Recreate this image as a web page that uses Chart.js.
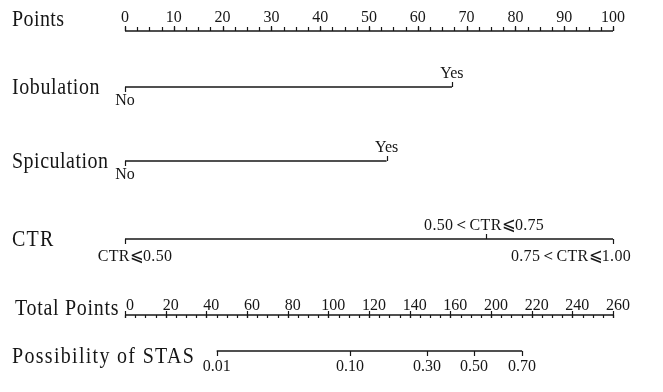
<!DOCTYPE html>
<html><head><meta charset="utf-8">
<script src="https://cdn.jsdelivr.net/npm/chart.js@4/dist/chart.umd.min.js"></script>
<style>html,body{margin:0;padding:0;background:#fff;}#wrap{width:663px;height:392px;}</style>
</head><body><div id="wrap"><canvas id="c" width="663" height="392"></canvas></div>
<script>
// ---------- data ----------
const rowNames = ["Points", "Iobulation", "Spiculation", "CTR", "Total Points", "Possibility of STAS"];
const pointsTickValues = [0, 10, 20, 30, 40, 50, 60, 70, 80, 90, 100];
const pointsMinorStep = 2.5;
const iobulationLevels = ["No", "Yes"];
const iobulationPoints = [0, 67];
const spiculationLevels = ["No", "Yes"];
const spiculationPoints = [0, 53.6];
const ctrLevels = ["CTR\u2A7D0.50", "0.50\uFF1CCTR\u2A7D0.75", "0.75\uFF1CCTR\u2A7D1.00"];
const ctrPoints = [0, 74, 100];
const totalTickValues = [0, 20, 40, 60, 80, 100, 120, 140, 160, 180, 200, 220, 240];
const totalTickLabels = ["0", "20", "40", "60", "80", "100", "120", "140", "160", "200", "220", "240", "260"];
const totalMinorStep = 5;
const stasLabels = ["0.01", "0.10", "0.30", "0.50", "0.70"];
const stasTotalPoints = [45.1, 110.7, 148.5, 171.7, 195.3];

// ---------- layout / style ----------
const rowY = { points: 31, iob: 87, spic: 161, ctr: 239, total: 315, stas: 351 };
const titleY = [20, 88, 162, 240, 309, 357];
const titleX = [12, 12, 12, 12, 15, 12];
const titleSpacing = [0.4, 0.6, 0.5, 1.2, 0.7, 1.3];
const INK = '#161616';
const FONT = '"Liberation Serif", "Times New Roman", "DejaVu Serif", serif';

function seg(xs, y) { return xs.map(v => ({ x: v, y: y })); }
const lineStyle = { type: 'line', borderColor: INK, borderWidth: 1.3, pointRadius: 0, fill: false, tension: 0 };

const datasets = [
  Object.assign({}, lineStyle, { data: seg([0, 100], rowY.points), xAxisID: 'x' }),
  Object.assign({}, lineStyle, { data: seg([iobulationPoints[0], iobulationPoints[iobulationPoints.length - 1]], rowY.iob), xAxisID: 'x' }),
  Object.assign({}, lineStyle, { data: seg([spiculationPoints[0], spiculationPoints[spiculationPoints.length - 1]], rowY.spic), xAxisID: 'x' }),
  Object.assign({}, lineStyle, { data: seg([ctrPoints[0], ctrPoints[ctrPoints.length - 1]], rowY.ctr), xAxisID: 'x' }),
  Object.assign({}, lineStyle, { data: seg([totalTickValues[0], totalTickValues[totalTickValues.length - 1]], rowY.total), xAxisID: 'xt' }),
  Object.assign({}, lineStyle, { data: seg([stasTotalPoints[0], stasTotalPoints[stasTotalPoints.length - 1]], rowY.stas), xAxisID: 'xt' })
];

const nomoPlugin = {
  id: 'nomo',
  afterDatasetsDraw(chart) {
    const ctx = chart.ctx;
    const xs = chart.scales.x, xt = chart.scales.xt, ys = chart.scales.y;
    const Y = v => ys.getPixelForValue(v);
    ctx.save();
    ctx.strokeStyle = INK; ctx.fillStyle = INK; ctx.lineWidth = 1.2;
    const tick = (px, y0, len) => { ctx.beginPath(); ctx.moveTo(Math.round(px) + 0.5, y0); ctx.lineTo(Math.round(px) + 0.5, y0 + len); ctx.stroke(); };
    const text = (s, px, py, size, align, ls, stretch) => {
      ctx.save();
      ctx.font = size + 'px ' + FONT; ctx.textAlign = align || 'center'; ctx.textBaseline = 'middle';
      ctx.letterSpacing = (ls || 0) + 'px';
      ctx.translate(px, py); ctx.scale(1, stretch || 1.1);
      ctx.fillText(s, 0, 0);
      ctx.restore();
    };
    // row titles
    rowNames.forEach((n, i) => text(n, titleX[i], titleY[i], 20, 'left', titleSpacing[i], 1.12));
    // Points axis
    const yp = Y(rowY.points);
    for (let v = 0; v <= 100 + 1e-9; v += pointsMinorStep) tick(xs.getPixelForValue(v), yp, -4);
    pointsTickValues.forEach(v => { tick(xs.getPixelForValue(v), yp, -5); text(String(v), xs.getPixelForValue(v), yp - 14, 16); });
    // binary rows
    const binRow = (levels, pts, y) => {
      const py = Y(y);
      levels.forEach((l, i) => {
        const px = xs.getPixelForValue(pts[i]);
        const up = i > 0;
        tick(px, py, up ? -5 : 5);
        text(l, px, up ? py - 14 : py + 13, 16);
      });
    };
    binRow(iobulationLevels, iobulationPoints, rowY.iob);
    binRow(spiculationLevels, spiculationPoints, rowY.spic);
    // CTR row
    const pc = Y(rowY.ctr);
    const ctrLabelShift = [10, -2, -42];
    ctrLevels.forEach((l, i) => {
      const px = xs.getPixelForValue(ctrPoints[i]);
      const up = i === 1;
      tick(px, pc, up ? -5 : 5);
      text(l, px + ctrLabelShift[i], up ? pc - 14 : pc + 17, 16, 'center', 0.3);
    });
    // Total points axis
    const pt = Y(rowY.total);
    for (let v = 0; v <= 240 + 1e-9; v += totalMinorStep) tick(xt.getPixelForValue(v), pt, 3);
    totalTickValues.forEach((v, i) => {
      const px = xt.getPixelForValue(v);
      tick(px, pt - 4, 7);
      text(totalTickLabels[i], px + 5, pt - 10, 16);
    });
    // Possibility axis
    const ps = Y(rowY.stas);
    stasTotalPoints.forEach((v, i) => {
      const px = xt.getPixelForValue(v);
      tick(px, ps, 5);
      text(stasLabels[i], px, ps + 15, 16);
    });
    ctx.restore();
  }
};

new Chart(document.getElementById('c'), {
  type: 'scatter',
  data: { datasets: datasets },
  options: {
    responsive: false, animation: false, devicePixelRatio: 1,
    layout: { padding: { left: 125, right: 50, top: 0, bottom: 0 } },
    plugins: { legend: { display: false }, tooltip: { enabled: false } },
    scales: {
      x: { type: 'linear', min: 0, max: 100, display: false },
      xt: { type: 'linear', min: 0, max: 240, display: false },
      y: { type: 'linear', min: 0, max: 392, reverse: true, display: false }
    }
  },
  plugins: [nomoPlugin]
});
</script></body></html>
